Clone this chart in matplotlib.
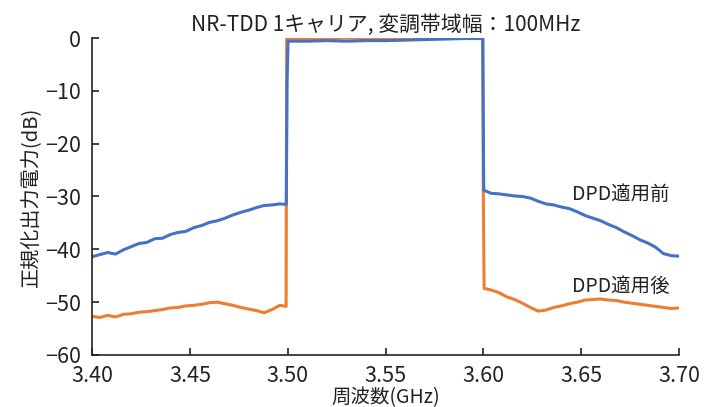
import matplotlib
matplotlib.use("Agg")
import matplotlib.pyplot as plt

plt.rcParams['font.family'] = ['Noto Sans CJK JP', 'DejaVu Sans']

title = "NR-TDD 1キャリア, 変調帯域幅：100MHz"
xlabel = "周波数(GHz)"
ylabel = "正規化出力電力(dB)"
label_before = "DPD適用前"
label_after = "DPD適用後"
xticks = [3.40, 3.45, 3.50, 3.55, 3.60, 3.65, 3.70]
yticks = [0, -10, -20, -30, -40, -50, -60]

# Before DPD (blue)
freq_before = [3.400, 3.404, 3.408, 3.412, 3.416, 3.420, 3.424, 3.428, 3.432, 3.436,
               3.440, 3.444, 3.448, 3.452, 3.456, 3.460, 3.464, 3.468, 3.472, 3.476,
               3.480, 3.484, 3.488, 3.492, 3.496, 3.4993,
               3.4997, 3.5002,
               3.51, 3.52, 3.53, 3.54, 3.55, 3.56, 3.57, 3.58, 3.59, 3.5997,
               3.6002, 3.604, 3.608, 3.612, 3.616, 3.620, 3.624, 3.628, 3.632, 3.636,
               3.640, 3.644, 3.648, 3.652, 3.656, 3.660, 3.664, 3.668, 3.672, 3.676,
               3.680, 3.684, 3.688, 3.692, 3.696, 3.700]
db_before = [-41.4, -41.0, -40.6, -40.9, -40.1, -39.5, -38.9, -38.7, -38.0, -37.9,
             -37.2, -36.8, -36.6, -35.9, -35.5, -34.9, -34.6, -34.1, -33.5, -33.0,
             -32.6, -32.1, -31.7, -31.6, -31.4, -31.5,
             -8.0, -0.6,
             -0.6, -0.5, -0.6, -0.5, -0.5, -0.4, -0.3, -0.2, -0.1, -0.1,
             -28.8, -29.4, -29.5, -29.7, -29.9, -30.0, -30.3, -30.9, -31.4, -31.6,
             -32.0, -32.3, -32.9, -33.6, -34.1, -34.6, -35.3, -35.9, -36.7, -37.4,
             -38.2, -38.8, -39.6, -40.8, -41.2, -41.3]

# After DPD (orange)
freq_after = [3.400, 3.404, 3.408, 3.412, 3.416, 3.420, 3.424, 3.428, 3.432, 3.436,
              3.440, 3.444, 3.448, 3.452, 3.456, 3.460, 3.464, 3.468, 3.472, 3.476,
              3.480, 3.484, 3.488, 3.492, 3.496, 3.4992,
              3.4995,
              3.51, 3.52, 3.53, 3.54, 3.55, 3.56, 3.57, 3.58, 3.59, 3.5997,
              3.6000, 3.6004, 3.604, 3.608, 3.612, 3.616, 3.620, 3.624, 3.628, 3.632,
              3.636, 3.640, 3.644, 3.648, 3.652, 3.656, 3.660, 3.664, 3.668, 3.672,
              3.676, 3.680, 3.684, 3.688, 3.692, 3.696, 3.700]
db_after = [-52.7, -52.9, -52.5, -52.8, -52.3, -52.2, -51.9, -51.8, -51.6, -51.4,
            -51.1, -51.0, -50.7, -50.6, -50.4, -50.1, -50.0, -50.3, -50.6, -51.0,
            -51.3, -51.6, -52.0, -51.4, -50.6, -50.8,
            -0.2,
            -0.1, -0.1, 0.0, -0.1, -0.1, 0.0, 0.0, 0.1, 0.1, 0.1,
            -30.0, -47.4, -47.7, -48.2, -49.0, -49.5, -50.2, -51.0, -51.7, -51.5,
            -51.0, -50.7, -50.3, -50.0, -49.6, -49.5, -49.4, -49.6, -49.7, -50.0,
            -50.2, -50.4, -50.6, -50.8, -51.0, -51.2, -51.1]

fig = plt.figure(figsize=(7.04, 4.07), dpi=100)
ax = fig.add_axes([0.1307, 0.1278, 0.8338, 0.7788])

ax.plot(freq_after, db_after, color='#ED7D31', lw=2.2, solid_joinstyle='round')
ax.plot(freq_before, db_before, color='#4472C4', lw=2.2, solid_joinstyle='round')

ax.set_xlim(3.40, 3.70)
ax.set_ylim(-60, 0)
ax.set_xticks(xticks)
ax.set_xticklabels([f"{v:.2f}" for v in xticks])
ax.set_yticks(yticks)
ax.set_yticklabels([("−" + str(-v)) if v < 0 else str(v) for v in yticks])
ax.tick_params(direction='in', length=5, width=1.2, labelsize=15.5, colors='#222222')
ax.tick_params(axis='y', pad=8)
ax.tick_params(axis='x', pad=7)
for s in ['top', 'right']:
    ax.spines[s].set_visible(False)
for s in ['left', 'bottom']:
    ax.spines[s].set_linewidth(1.2)
    ax.spines[s].set_color('#222222')

ax.set_title(title, fontsize=15, color='#222222', pad=5)
ax.set_xlabel(xlabel, fontsize=14, color='#222222', labelpad=0)
ax.set_ylabel(ylabel, fontsize=14.5, color='#222222', labelpad=2)

ax.text(3.6453, -29.7, label_before, fontsize=14, color='#222222', ha='left', va='center')
ax.text(3.6453, -47.1, label_after, fontsize=14, color='#222222', ha='left', va='center')

fig.savefig("out.png", dpi=100)
